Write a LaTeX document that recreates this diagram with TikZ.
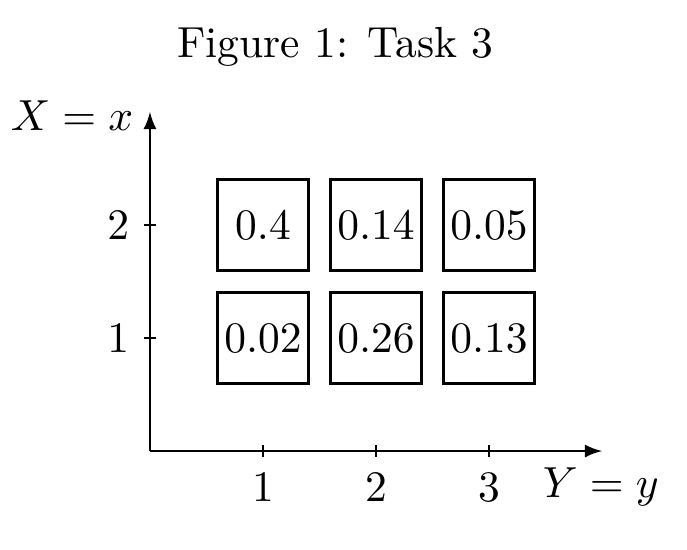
\documentclass[tikz,border=0pt]{standalone}
\usetikzlibrary{arrows}
\begin{document}
\begin{tikzpicture}[font=\fontsize{10.95}{13.6}\selectfont,
  cell/.style={draw, line width=0.8pt, minimum size=0.8cm, inner sep=0pt},
  axis/.style={line width=0.5pt, -latex},
  tick/.style={line width=0.4pt}]
\useasboundingbox (-1.327,-0.867) rectangle (4.752,3.991);
\node (title) at (1.64,3.575) {Figure 1: Task 3};
\coordinate (o) at (0,0);
\coordinate (xe) at (4,0);
\coordinate (ye) at (0,3);
\draw[axis] (o) -- (xe);
\draw[axis] (o) -- (ye);
\node (xl) at (3.99,-0.32) {$Y=y$};
\node (yl) at (-0.69,2.97) {$X=x$};
\foreach \i in {1,2,3} {
  \coordinate (tx\i) at (\i,0);
  \draw[tick] ([yshift=1.5pt]tx\i) -- ([yshift=-1.5pt]tx\i);
  \node (lx\i) at (\i,-0.32) {$\i$};
}
\foreach \j in {1,2} {
  \coordinate (ty\j) at (0,\j);
  \draw[tick] ([xshift=1.5pt]ty\j) -- ([xshift=-1.5pt]ty\j);
  \node (ly\j) at (-0.28,\j) {$\j$};
}
\node[cell] (c12) at (1,2) {$0.4$};
\node[cell] (c22) at (2,2) {$0.14$};
\node[cell] (c32) at (3,2) {$0.05$};
\node[cell] (c11) at (1,1) {$0.02$};
\node[cell] (c21) at (2,1) {$0.26$};
\node[cell] (c31) at (3,1) {$0.13$};
\end{tikzpicture}
\end{document}
